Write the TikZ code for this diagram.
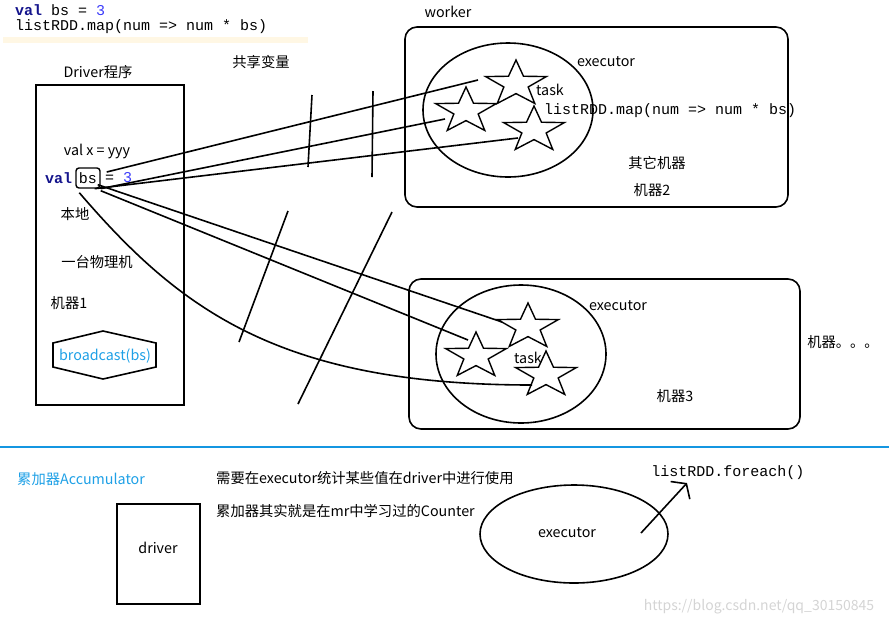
\documentclass[tikz,border=0pt]{standalone}
\usepackage{fontspec}
\setmainfont{Noto Sans CJK SC}
\newfontfamily\codefont{Liberation Mono}
\usepackage{tikz}
\usetikzlibrary{positioning, arrows.meta, calc, shapes.geometric}
\definecolor{kwnavy}{RGB}{20,20,140}
\definecolor{numblue}{RGB}{60,60,250}
\definecolor{notesky}{RGB}{30,160,230}
\definecolor{rulesky}{RGB}{20,150,225}
\definecolor{bandcream}{RGB}{255,247,228}
\definecolor{markgray}{RGB}{212,212,212}
\tikzset{
  txt/.style={font=\fontsize{14.3}{17}\selectfont, inner sep=1pt},
  code/.style={font={\fontsize{15}{17}\codefont}, inner sep=1pt},
  machine/.style={draw, line width=1.6pt, rounded corners=12pt, inner sep=0pt},
  plainbox/.style={draw, line width=1.6pt, inner sep=0pt},
  execell/.style={draw, ellipse, line width=1.6pt, inner sep=0pt},
  taskstar/.style={draw, star, star points=5, star point ratio=2.5, line width=1.4pt, minimum size=48pt, inner sep=0pt, xscale=1.33, transform shape},
  wire/.style={line width=1.6pt},
  cut/.style={line width=1.6pt},
}

\begin{document}
\begin{tikzpicture}[x=1pt, y=-1pt]
  \useasboundingbox (0,0) rectangle (889,625);

  % code snippet at the top
  \fill[bandcream] (3,37) rectangle (308,43);
  \node[code, anchor=west] (snip1) at (14,10) {\textbf{\color{kwnavy}val} bs = {\color{numblue}3}};
  \node[code, anchor=west] (snip2) at (14,27) {listRDD.map(num => num * bs)};

  % driver side
  \node[plainbox, minimum width=148, minimum height=320] (drvbox) at (110,245) {};
  \node[txt] (drvlabel) at (98,72) {Driver程序};
  \node[txt] (sharelabel) at (261,62) {共享变量};
  \node[txt] (valx) at (97,151) {val x = yyy};
  \node[code, anchor=west] (kwval) at (44,178) {\textbf{\color{kwnavy}val}};
  \node[code, draw, line width=1.4pt, rounded corners=3pt, minimum width=24, minimum height=20] (bsref) at (88,178) {bs};
  \node[code, anchor=west] (eqval) at (104,178) {= {\color{numblue}3}};
  \node[txt] (local) at (75,214) {本地};
  \node[txt] (onehost) at (97,262) {一台物理机};
  \node[txt] (host1) at (69,303) {机器1};
  \draw[line width=1.6pt] (53,343) -- (103,331) -- (156,343) -- (156,367) -- (103,379) -- (53,367) -- cycle;
  \node[txt, text=notesky] (bcast) at (105,356) {broadcast(bs)};

  % worker 1
  \node[txt] (wlabel) at (448,12) {worker};
  \node[machine, minimum width=383, minimum height=180] (host2box) at (596.5,117) {};
  \node[execell, minimum width=170, minimum height=134] (ex1) at (508,110) {};
  \node[taskstar] (w1a) at (516,84) {};
  \node[taskstar] (w1b) at (466,111) {};
  \node[taskstar] (w1c) at (534,130) {};
  \node[txt] (ex1label) at (606,62) {executor};
  \node[txt] (task1label) at (550,90) {task};
  \node[code, anchor=west] (mapcall) at (543,111) {listRDD.map(num => num * bs)};
  \node[txt] (others) at (657,163) {其它机器};
  \node[txt] (host2) at (652,190) {机器2};

  % worker 2
  \node[machine, minimum width=391, minimum height=150] (host3box) at (604.5,354) {};
  \node[execell, minimum width=170, minimum height=138] (ex2) at (521,354) {};
  \node[taskstar] (w2a) at (528,327) {};
  \node[taskstar] (w2b) at (476,356) {};
  \node[taskstar] (w2c) at (546,375) {};
  \node[txt] (ex2label) at (618,306) {executor};
  \node[txt] (task2label) at (528,358) {task};
  \node[txt] (host3) at (675,396) {机器3};
  \node[txt] (hostmore) at (843,342) {机器。。。};

  % copies of bs sent to the tasks
  \draw[wire] ($(bsref.east)+(6,-6)$) -- ($(w1a)+(-38,-4)$);
  \draw[wire] (bsref.south east) -- ($(w1b)+(-21,8)$);
  \draw[wire] ($(bsref.south east)+(-6,0)$) -- ($(w1c)+(-16,8)$);
  \draw[wire] ($(bsref.south east)+(-3,-4)$) -- ($(w2a)+(-26,-5)$);
  \draw[wire] ($(bsref.south east)+(0,2)$) -- ($(w2b)+(-8,-16)$);
  \draw[wire] ($(bsref.south west)+(4,4)$) .. controls (180,310) and (280,385) .. ($(w2c)+(-14,10)$);

  % strokes across the wires
  \draw[cut] (312,95) -- (308,167);
  \draw[cut] (373,91) -- (372,177);
  \draw[cut] (288,211) -- (239,342);
  \draw[cut] (392,212) -- (298,404);

  % accumulator part
  \draw[rulesky, line width=2.2pt] (0,447) -- (889,447);
  \node[txt, text=notesky, anchor=west] (acclabel) at (16,479) {累加器Accumulator};
  \node[txt, anchor=west] (accneed) at (215,478) {需要在executor统计某些值在driver中进行使用};
  \node[txt, anchor=west] (acccounter) at (215,511) {累加器其实就是在mr中学习过的Counter};
  \node[plainbox, minimum width=83, minimum height=100] (accdrv) at (158.5,554) {};
  \node[txt] (accdrvlabel) at (158,548) {driver};
  \node[execell, minimum width=188, minimum height=98] (ex3) at (574,534) {};
  \node[txt] (ex3label) at (567,533) {executor};
  \node[code] (foreach) at (728,473) {listRDD.foreach()};
  \coordinate (fetail) at (641,533);
  \coordinate (fehead) at (687,483);
  \draw[wire, -{Straight Barb[length=9pt, width=26pt, line width=1.6pt]}] (fetail) -- (fehead);

  \node[txt, text=markgray, font=\fontsize{14}{16}\selectfont] (mark) at (759,607) {https://blog.csdn.net/qq\_30150845};
\end{tikzpicture}
\end{document}
